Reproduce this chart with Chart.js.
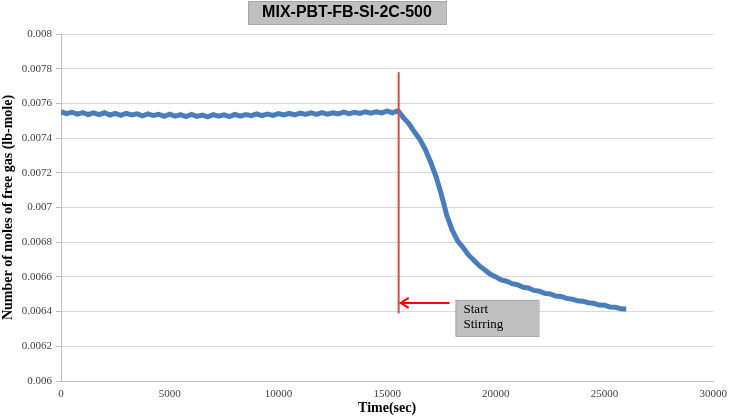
<!DOCTYPE html>
<html>
<head>
<meta charset="utf-8">
<script src="https://cdn.jsdelivr.net/npm/chart.js@4/dist/chart.umd.min.js"></script>
<style>
  html, body { margin: 0; padding: 0; background: #fff; }
  #wrap { width: 729px; height: 417px; }
</style>
</head>
<body>
<div id="wrap"><canvas id="chart"></canvas></div>
<script>
// time (sec) and moles of free gas (lb-mole)
const times = [
  0, 250, 500, 750, 1000, 1250, 1500, 1750, 2000, 2250,
  2500, 2750, 3000, 3250, 3500, 3750, 4000, 4250, 4500, 4750,
  5000, 5250, 5500, 5750, 6000, 6250, 6500, 6750, 7000, 7250,
  7500, 7750, 8000, 8250, 8500, 8750, 9000, 9250, 9500, 9750,
  10000, 10250, 10500, 10750, 11000, 11250, 11500, 11750, 12000, 12250,
  12500, 12750, 13000, 13250, 13500, 13750, 14000, 14250, 14500, 14750,
  15000, 15250, 15500, 15750, 16000, 16250, 16500, 16750, 17000, 17250,
  17500, 17750, 18000, 18250, 18500, 18750, 19000, 19250, 19500, 19750,
  20000, 20250, 20500, 20750, 21000, 21250, 21500, 21750, 22000, 22250,
  22500, 22750, 23000, 23250, 23500, 23750, 24000, 24250, 24500, 24750,
  25000, 25250, 25500, 25750, 26000
];
const moles = [
  0.007552, 0.007541, 0.007549, 0.007538, 0.007547, 0.007536, 0.007545, 0.007535, 0.007546, 0.007533,
  0.007542, 0.007531, 0.007543, 0.007534, 0.00754, 0.007528, 0.007539, 0.00753, 0.007537, 0.007526,
  0.007538, 0.007527, 0.007535, 0.007524, 0.007536, 0.007525, 0.007533, 0.007523, 0.007535, 0.007526,
  0.007534, 0.007524, 0.007537, 0.007527, 0.007536, 0.007529, 0.007539, 0.00753, 0.007538, 0.007531,
  0.007541, 0.007533, 0.007542, 0.007534, 0.007544, 0.007536, 0.007545, 0.007537, 0.007547, 0.007538,
  0.007546, 0.00754, 0.00755, 0.007541, 0.007549, 0.007542, 0.007552, 0.007544, 0.007551, 0.007545,
  0.007555, 0.007546, 0.007558, 0.007518, 0.007484, 0.007436, 0.007394, 0.007336, 0.007262, 0.007178,
  0.007072, 0.006952, 0.006868, 0.006806, 0.006768, 0.006725, 0.006695, 0.006663, 0.00664, 0.006615,
  0.0066, 0.006583, 0.006575, 0.006561, 0.006555, 0.00654, 0.006536, 0.006522, 0.006518, 0.006505,
  0.006502, 0.00649, 0.006487, 0.006476, 0.006472, 0.006463, 0.00646, 0.006451, 0.006448, 0.006438,
  0.006437, 0.006427, 0.006425, 0.006416, 0.006415
];

const xTicks = [0, 5000, 10000, 15000, 20000, 25000, 30000];
const yTicks = [0.006, 0.0062, 0.0064, 0.0066, 0.0068, 0.007, 0.0072, 0.0074, 0.0076, 0.0078, 0.008];

// "Start Stirring" marker
const stirTime = 15530;
const stirLineTop = 0.00778;
const stirLineBottom = 0.00639;
const arrowLevel = 0.00645;
const arrowTailTime = 17870;

const serif = '"Liberation Serif", "Times New Roman", serif';

const annotations = {
  id: 'annotations',
  afterDatasetsDraw(chart) {
    const { ctx, scales: { x, y } } = chart;
    ctx.save();
    // vertical red line
    const sx = x.getPixelForValue(stirTime);
    ctx.strokeStyle = '#d0504d';
    ctx.lineWidth = 2;
    ctx.beginPath();
    ctx.moveTo(sx, y.getPixelForValue(stirLineTop));
    ctx.lineTo(sx, y.getPixelForValue(stirLineBottom));
    ctx.stroke();

    // arrow
    const ay = y.getPixelForValue(arrowLevel);
    const tail = x.getPixelForValue(arrowTailTime);
    const head = sx + 2;
    ctx.strokeStyle = '#ff0000';
    ctx.lineWidth = 2;
    ctx.beginPath();
    ctx.moveTo(tail, ay);
    ctx.lineTo(head, ay);
    ctx.moveTo(head + 8, ay - 5);
    ctx.lineTo(head, ay);
    ctx.lineTo(head + 8, ay + 5);
    ctx.stroke();

    // text box
    const bx = tail + 6, by = ay - 3, bw = 83, bh = 36;
    ctx.fillStyle = '#bfbfbf';
    ctx.fillRect(bx, by, bw, bh);
    ctx.strokeStyle = '#a6a6a6';
    ctx.lineWidth = 1;
    ctx.strokeRect(bx + 0.5, by + 0.5, bw, bh);
    ctx.fillStyle = '#000';
    ctx.font = '13px ' + serif;
    ctx.textAlign = 'left';
    ctx.textBaseline = 'middle';
    ctx.fillText('Start', bx + 8, by + 10);
    ctx.fillText('Stirring', bx + 8, by + 25);
    ctx.restore();
  },
  afterDraw(chart) {
    const { ctx } = chart;
    ctx.save();
    const label = 'MIX-PBT-FB-SI-2C-500';
    ctx.font = 'bold 16px "Liberation Sans", Arial, sans-serif';
    const w = ctx.measureText(label).width + 28;
    const cx = 347;
    ctx.fillStyle = '#bfbfbf';
    ctx.fillRect(cx - w / 2, 1, w, 23);
    ctx.strokeStyle = '#a6a6a6';
    ctx.strokeRect(cx - w / 2 + 0.5, 1.5, w, 23);
    ctx.fillStyle = '#000';
    ctx.textAlign = 'center';
    ctx.textBaseline = 'middle';
    ctx.fillText(label, cx, 13);
    ctx.restore();
  }
};

new Chart(document.getElementById('chart'), {
  type: 'line',
  data: {
    datasets: [{
      data: times.map((t, i) => ({ x: t, y: moles[i] })),
      borderColor: '#4a7ebb',
      borderWidth: 5,
      pointRadius: 0,
      tension: 0,
      fill: false,
    }],
  },
  options: {
    responsive: true,
    maintainAspectRatio: false,
    animation: false,
    layout: { padding: { top: 34, right: 13, left: 0, bottom: 0 } },
    plugins: { legend: { display: false }, tooltip: { enabled: false } },
    scales: {
      x: {
        type: 'linear',
        min: 0,
        max: 30000,
        afterBuildTicks: (s) => { s.ticks = xTicks.map((v) => ({ value: v })); },
        afterFit: (s) => { s.height = 36; },
        grid: { display: false, drawTicks: true, tickLength: 5, color: '#bfbfbf' },
        border: { color: '#bfbfbf' },
        ticks: { color: '#404040', font: { family: serif, size: 11 }, padding: 2, maxRotation: 0, callback: (v) => String(v) },
        title: { display: true, text: 'Time(sec)', color: '#000', font: { family: serif, size: 14, weight: 'bold' }, padding: 0 },
      },
      y: {
        min: 0.006,
        max: 0.008,
        afterBuildTicks: (s) => { s.ticks = yTicks.map((v) => ({ value: v })); },
        afterFit: (s) => { s.width = 61; },
        grid: { color: '#d9d9d9', tickLength: 5, tickColor: '#bfbfbf' },
        border: { color: '#bfbfbf' },
        ticks: { color: '#404040', font: { family: serif, size: 11 }, padding: 4, callback: (v) => String(+v.toFixed(4)) },
        title: { display: true, text: 'Number of moles of free gas (lb-mole)', color: '#000', font: { family: serif, size: 14, weight: 'bold' }, padding: 0 },
      },
    },
  },
  plugins: [annotations],
});
</script>
</body>
</html>
